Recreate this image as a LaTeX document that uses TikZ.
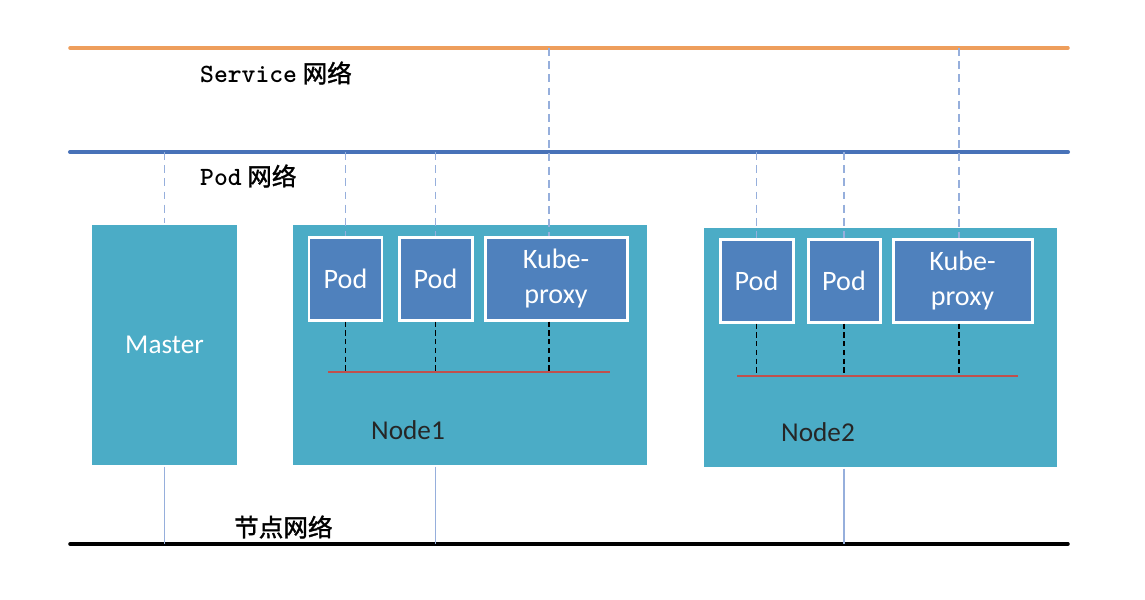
\documentclass[tikz,border=0pt]{standalone}
\usepackage{fontspec}
\setmainfont{Carlito}
\newfontfamily\cjkfont[AutoFakeBold=1.5]{Noto Sans CJK SC}
\usetikzlibrary{fit}
\definecolor{svcorange}{RGB}{238,158,92}
\definecolor{podnetblue}{RGB}{72,114,184}
\definecolor{hostteal}{RGB}{75,172,198}
\definecolor{podblue}{RGB}{79,129,189}
\definecolor{linkblue}{RGB}{150,175,220}
\definecolor{barred}{RGB}{192,80,77}
\newcommand{\netname}[1]{{\fontsize{15}{17}\selectfont\ttfamily #1}}

\begin{document}
\begin{tikzpicture}[x=0.02cm,y=-0.02cm,
    hostbox/.style={fill=hostteal, draw=white, line width=0.6pt, inner sep=0pt},
    podbox/.style={fill=podblue, draw=white, line width=1.7pt, inner sep=0pt},
    boxtext/.style={text=white, align=center, font=\fontsize{16}{20}\selectfont},
    netline/.style={line width=2pt, line cap=round},
    uplink/.style={draw=linkblue, dash pattern=on 4.5pt off 3pt, line width=0.6pt},
    downlink/.style={draw=linkblue, line width=0.6pt},
    barlink/.style={dash pattern=on 3pt off 2pt, line width=1.1pt},
    netlabel/.style={anchor=west, font=\fontsize{14}{16}\selectfont\bfseries}]
    \useasboundingbox (0,0) rectangle (1145,599);

    % --- NETWORKS ---
    \draw[netline, svcorange] (70,48) coordinate (svcL) -- (1068,48) coordinate (svcR);
    \draw[netline, podnetblue, line width=2.3pt] (70,152) coordinate (podL) -- (1068,152) coordinate (podR);
    \draw[netline, black] (70,544) coordinate (hostL) -- (1068,544) coordinate (hostR);
    \node[netlabel] (svclabel) at (194,73) {\netname{Service} {\cjkfont 网络}};
    \node[netlabel] (podlabel) at (194,176) {\netname{Pod} {\cjkfont 网络}};
    \node[netlabel] (hostlabel) at (228,527) {\cjkfont 节点网络};

    % --- HOSTS ---
    \node[hostbox, fit={(91,224) (238,466)},
        label={[boxtext, font=\fontsize{15.5}{19}\selectfont]center:Master}] (master) {};
    \node[hostbox, fit={(292,224) (648,466)}] (nodeA) {};
    \node[hostbox, fit={(703,227) (1058,468)}] (nodeB) {};
    \node[font=\fontsize{15.5}{19}\selectfont, text=black!85] (nodeAlabel) at (408,430) {Node1};
    \node[font=\fontsize{15.5}{19}\selectfont, text=black!85] (nodeBlabel) at (818,432) {Node2};

    % --- PODS (NODE1) ---
    \node[podbox, fit={(309,237) (382,320)}, label={[boxtext]center:Pod}] (podAa) {};
    \node[podbox, fit={(399,237) (472,320)}, label={[boxtext]center:Pod}] (podAb) {};
    \node[podbox, fit={(485,237) (627,320)}, label={[boxtext]center:Kube-\\proxy}] (kpA) {};
    \draw[barred, line width=0.9pt] (328,372) coordinate (barAL) -- (610,372) coordinate (barAR);

    % --- PODS (NODE2) ---
    \node[podbox, fit={(720,239) (793,322)}, label={[boxtext]center:Pod}] (podBa) {};
    \node[podbox, fit={(808,239) (880,322)}, label={[boxtext]center:Pod}] (podBb) {};
    \node[podbox, fit={(893,239) (1032,322)}, label={[boxtext]center:Kube-\\proxy}] (kpB) {};
    \draw[barred, line width=0.9pt] (737,376) coordinate (barBL) -- (1018,376) coordinate (barBR);

    % --- LINKS ---
    \draw[uplink] (master.north |- podL) -- (master.north);
    \draw[uplink] (podAa.north |- podL) -- (podAa.north);
    \draw[uplink] (podAb.north |- podL) -- (podAb.north);
    \draw[uplink] ([xshift=-0.14cm]kpA.north |- svcL) -- ([xshift=-0.14cm]kpA.north);
    \draw[uplink] (podBa.north |- podL) -- (podBa.north);
    \draw[uplink] (podBb.north |- podL) -- (podBb.north);
    \draw[uplink] ([xshift=-0.07cm]kpB.north |- svcL) -- ([xshift=-0.07cm]kpB.north);

    \foreach \p in {podAa,podAb}
        \draw[barlink] (\p.south) -- (\p.south |- barAL);
    \draw[barlink] ([xshift=-0.14cm]kpA.south) -- ([xshift=-0.14cm]kpA.south |- barAL);
    \foreach \p in {podBa,podBb}
        \draw[barlink] (\p.south) -- (\p.south |- barBL);
    \draw[barlink] ([xshift=-0.07cm]kpB.south) -- ([xshift=-0.07cm]kpB.south |- barBL);

    \draw[downlink] (master.south) -- (master.south |- hostL);
    \draw[downlink] (podAb.south |- nodeA.south) -- (podAb.south |- hostL);
    \draw[downlink] (podBb.south |- nodeB.south) -- (podBb.south |- hostL);
\end{tikzpicture}
\end{document}
